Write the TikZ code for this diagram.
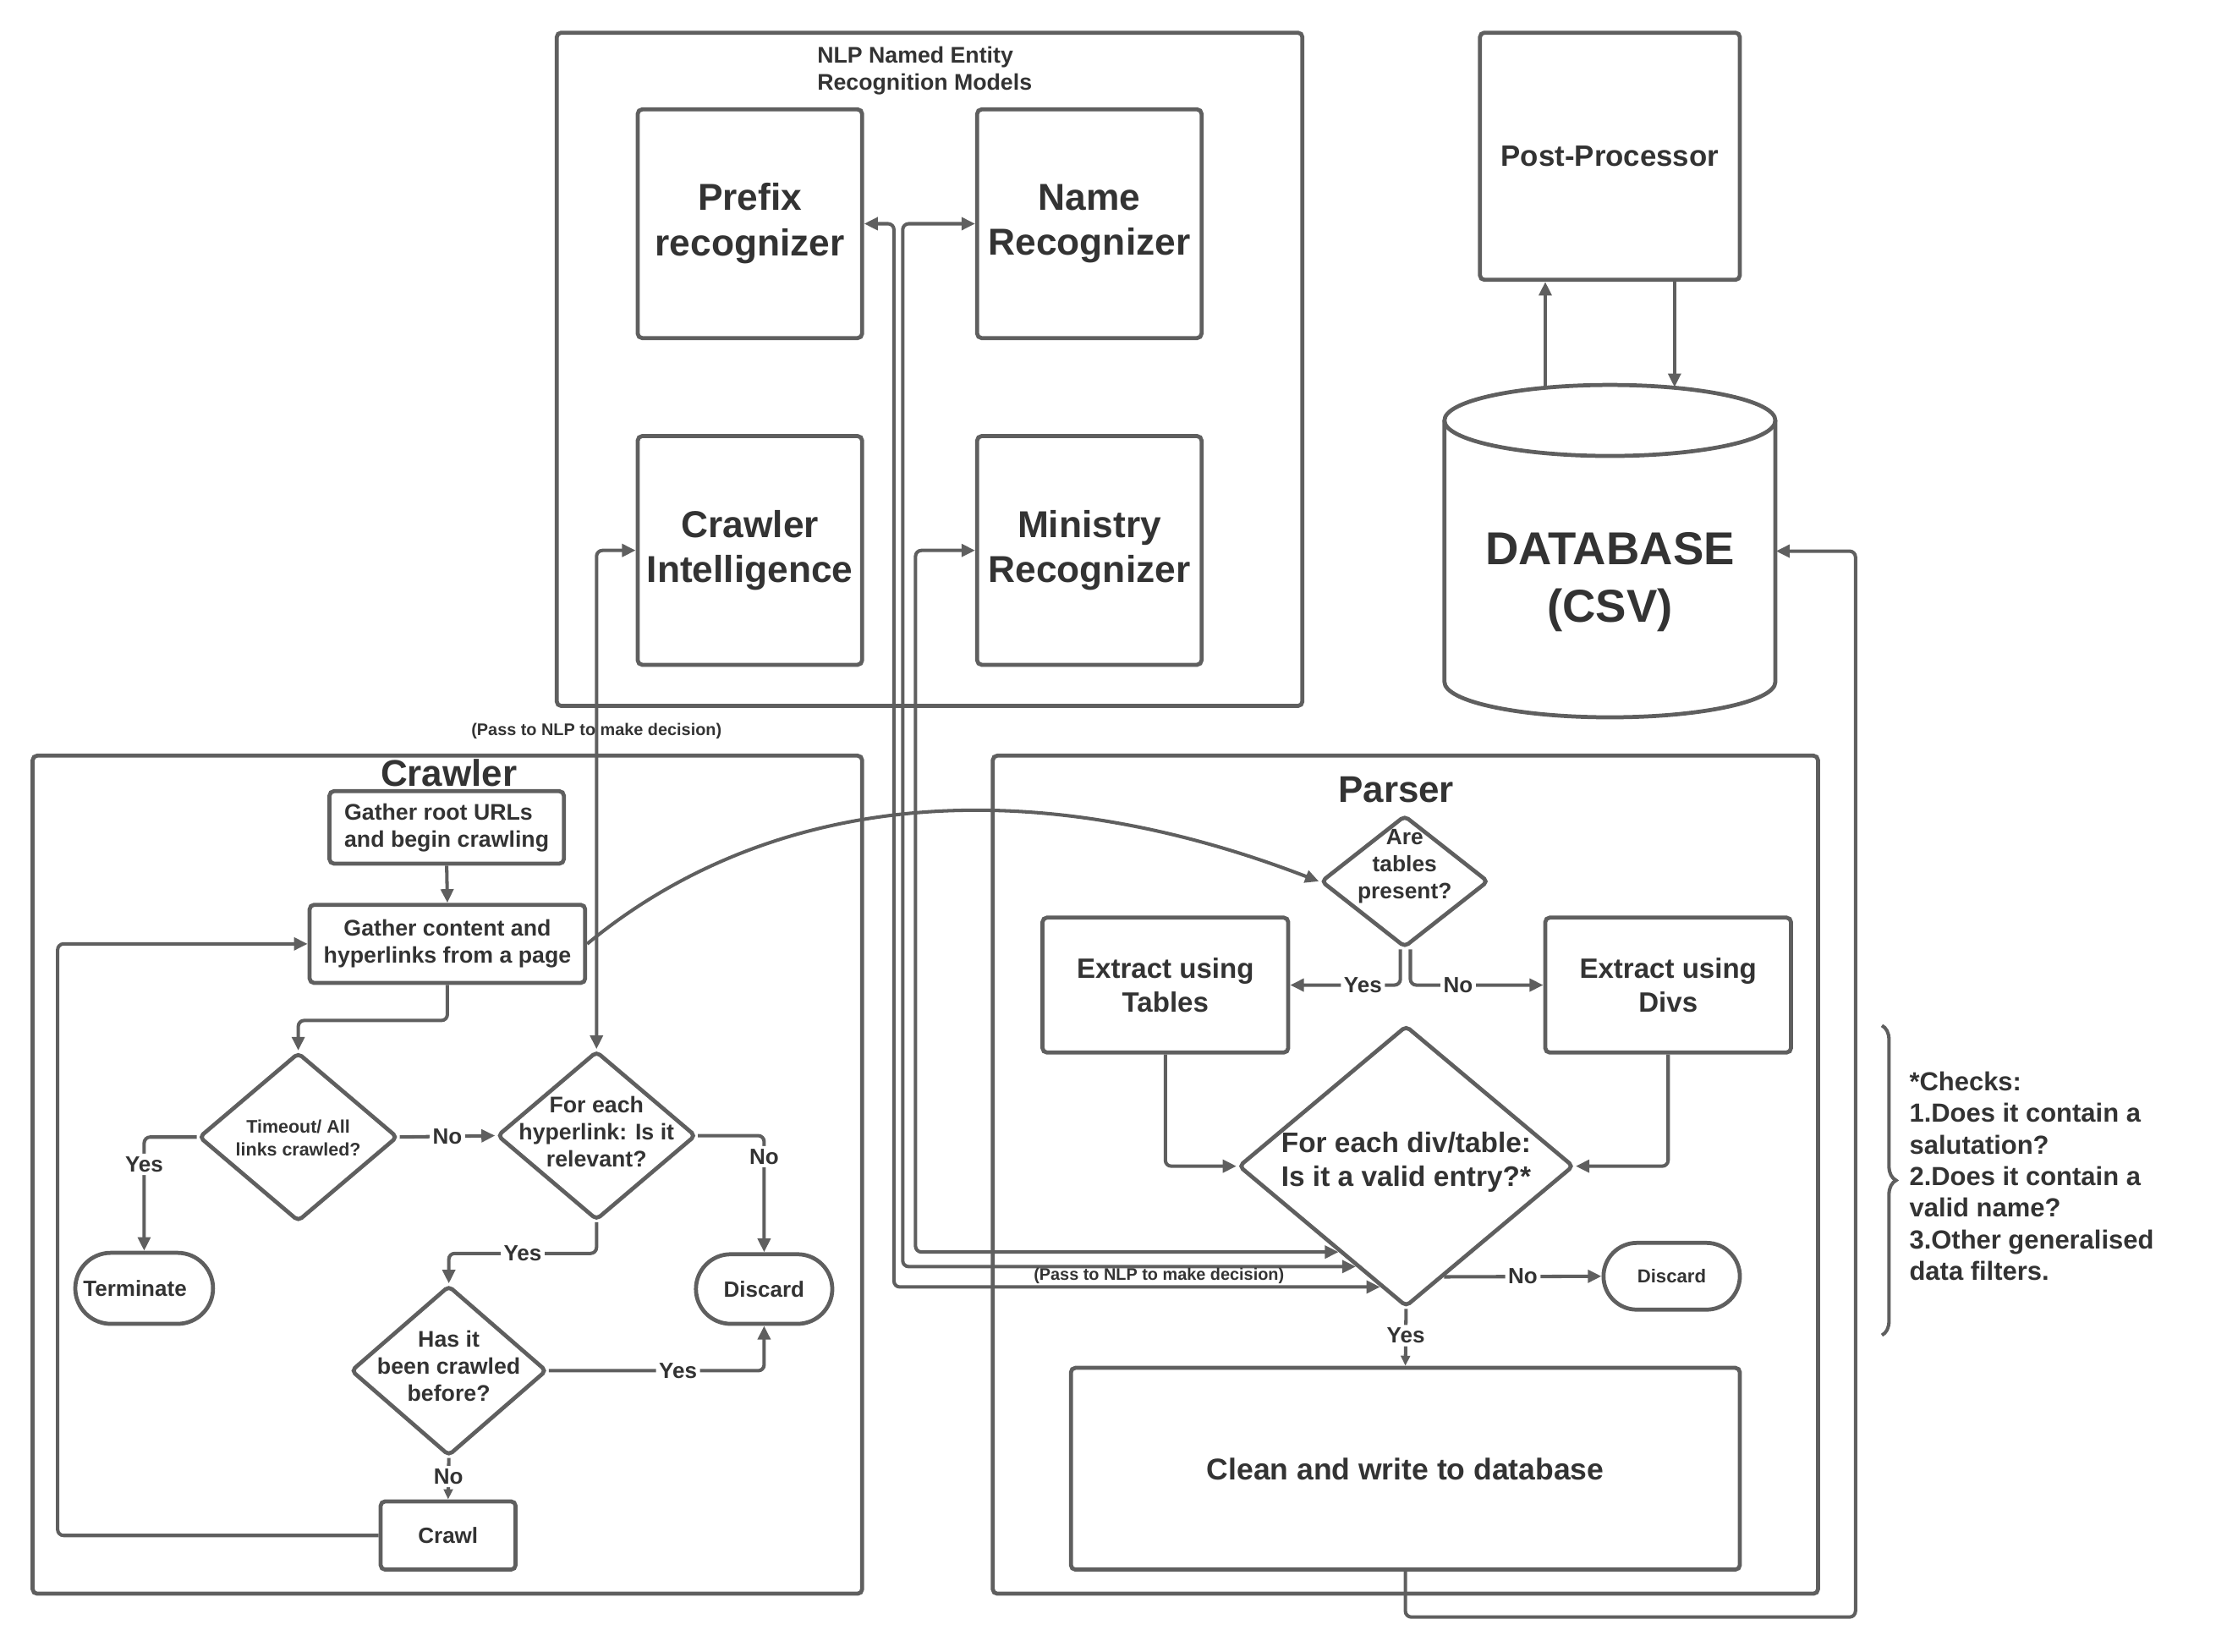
\documentclass[tikz,border=0pt]{standalone}
\usepackage{fontspec}
\setmainfont{Liberation Sans}
\usetikzlibrary{arrows.meta,shapes.geometric,shapes.misc,calc,decorations.pathreplacing}
\newlength\px
\setlength\px{0.016792cm}
\definecolor{lc}{HTML}{5F5F5F}
\definecolor{tc}{HTML}{333333}
\newcommand\myfs[2]{\fontsize{#1pt}{#2pt}\selectfont\bfseries}
\begin{document}
\begin{tikzpicture}[x=0.016792cm, y=-0.016792cm,
  ln/.style={draw=lc, line width=1.15pt, rounded corners=2pt},
  arr/.style={ln, -{Triangle[length=4.6pt,width=4.2pt]}},
  arrs/.style={ln, -{Triangle[length=3.4pt,width=3pt]}},
  arrb/.style={ln, {Triangle[length=4.6pt,width=4.2pt]}-{Triangle[length=4.6pt,width=4.2pt]}},
  box/.style={draw=lc, line width=1.35pt, rounded corners=1.5pt, text=tc, inner sep=0pt, align=center},
  dia/.style={draw=lc, line width=1.35pt, diamond, inner sep=0pt, rounded corners=1.5pt},
  stad/.style={draw=lc, line width=1.35pt, rounded rectangle, inner sep=0pt, text=tc},
  txt/.style={text=tc, inner sep=0pt, align=center},
  big/.style={font=\myfs{12.6}{15.3}},
  lbl/.style={fill=white, inner sep=1pt, text=tc, font=\myfs{7.4}{9}},
  small/.style={txt, font=\myfs{5.65}{7}},
]
\useasboundingbox (0,0) rectangle (1568,1163);

% ---------- NLP models ----------
\node[box, minimum width=525\px, minimum height=474\px] (nlp) at (654.5,260) {};
\node[txt, anchor=west, align=left, font=\myfs{7.6}{9.1}] (nlpt) at (575,50) {NLP Named Entity\\Recognition Models};
\node[box, big, minimum width=158\px, minimum height=161\px] (pre) at (528,157.5) {Prefix\\recognizer};
\node[box, big, minimum width=158\px, minimum height=161\px] (nam) at (767,157.5) {Name\\Recognizer};
\node[box, big, minimum width=158\px, minimum height=161\px] (ci) at (528,387.5) {Crawler\\Intelligence};
\node[box, big, minimum width=158\px, minimum height=161\px] (mini) at (767,387.5) {Ministry\\Recognizer};

% ---------- Post-processor and database ----------
\node[box, font=\myfs{9.9}{12}, minimum width=183\px, minimum height=174\px] (pp) at (1133.5,110) {Post-Processor};
\node[minimum width=233\px, minimum height=234\px, inner sep=0pt] (db) at (1133.5,388) {};
\draw[draw=lc, line width=1.35pt] (1133.5,296) ellipse [x radius=116.5\px, y radius=25\px];
\draw[draw=lc, line width=1.35pt] (1017,296) -- (1017,480)
  .. controls (1017,493.8) and (1069.2,505) .. (1133.5,505)
  .. controls (1197.8,505) and (1250,493.8) .. (1250,480) -- (1250,296);
\node[txt, font=\myfs{15.5}{19.3}] (dbt) at (1133.5,410) {DATABASE\\(CSV)};

% ---------- Crawler ----------
\node[box, minimum width=584\px, minimum height=590\px] (cbox) at (315,827) {};
\node[txt, font=\myfs{12.5}{15}] (ctitle) at (316,544) {Crawler};
\node[box, font=\myfs{7.6}{9.1}, align=left, minimum width=165\px, minimum height=51\px] (root) at (314.5,582.5) {Gather root URLs\\and begin crawling};
\node[box, font=\myfs{7.6}{9.1}, minimum width=194\px, minimum height=55\px] (gc) at (315,664.5) {Gather content and\\hyperlinks from a page};
\node[dia, minimum width=140\px, minimum height=119\px] (d1) at (210,800.5) {};
\node[txt, font=\myfs{6.1}{7.6}] (d1t) at (210,801) {Timeout/ All\\links crawled?};
\node[stad, font=\myfs{7.4}{9}, minimum width=97\px, minimum height=50\px] (term) at (101.5,907) {Terminate\kern13\px};
\node[dia, minimum width=140\px, minimum height=119\px] (d2) at (420,799.5) {};
\node[txt, font=\myfs{7.6}{9.1}] (d2t) at (420,797) {For each\\hyperlink: Is it\\relevant?};
\node[stad, font=\myfs{7.4}{9}, minimum width=96\px, minimum height=49\px] (disc1) at (538,907.5) {Discard};
\node[dia, minimum width=138\px, minimum height=120\px] (d3) at (316,965) {};
\node[txt, font=\myfs{7.6}{9.1}] (d3t) at (316,962) {Has it\\been crawled\\before?};
\node[box, font=\myfs{7.4}{9}, minimum width=95\px, minimum height=48\px] (crawl) at (315.5,1081) {Crawl};

% ---------- Parser ----------
\node[box, minimum width=581\px, minimum height=590\px] (pbox) at (989.5,827) {};
\node[txt, font=\myfs{12.5}{15}] (ptitle) at (983,556) {Parser};
\node[dia, minimum width=118\px, minimum height=93\px] (dA) at (989,620.5) {};
\node[txt, font=\myfs{7.5}{9.1}] (dAt) at (989,610) {Are\\tables\\present?};
\node[box, font=\myfs{9.4}{11.5}, minimum width=173\px, minimum height=95\px] (tab) at (820.5,693.5) {Extract using\\Tables};
\node[box, font=\myfs{9.4}{11.5}, minimum width=173\px, minimum height=95\px] (div) at (1174.5,693.5) {Extract using\\Divs};
\node[dia, minimum width=236\px, minimum height=198\px] (vd) at (990,821) {};
\node[txt, font=\myfs{9.5}{11.5}] (vdt) at (990,818) {For each div/table:\\Is it a valid entry?*};
\node[stad, font=\myfs{6.3}{8}, minimum width=96\px, minimum height=47\px] (disc2) at (1177,898.5) {Discard};
\node[box, font=\myfs{10.1}{12}, minimum width=471\px, minimum height=142\px] (clean) at (989.5,1034) {Clean and write to database};

% ---------- checks note ----------
\draw[draw=lc, line width=1.15pt, decorate, decoration={brace, amplitude=10\px}] (1325,722) -- (1325,940);
\node[txt, anchor=west, align=left, font=\myfs{8.8}{10.6}] (checks) at (1344,828) {*Checks:\\1.Does it contain a\\salutation?\\2.Does it contain a\\valid name?\\3.Other generalised\\data filters.};

% ---------- connectors: crawler ----------
\draw[arr] (root.south) -- (gc.north);
\draw[arr] (gc.south) -- ++(0,25) -| (d1.north);
\draw[arr] (d1.west) -| node[lbl, pos=0.62] {Yes} (term.north);
\draw[arr] (d1.east) -- node[lbl] {No} (d2.west);
\draw[arr] (d2.east) -| node[lbl, pos=0.59] {No} (disc1.north);
\draw[arr] (d2.south) -- ++(0,22) -| node[lbl, pos=0.25] {Yes} (d3.north);
\draw[arr] (d3.east) -| node[lbl, pos=0.30] {Yes} (disc1.south);
\draw[arrs] (d3.south) -- node[lbl, pos=0.45] {No} (crawl.north);
\draw[arr] (crawl.west) -- ++(-226,0) |- (gc.west);
\draw[arrb] (d2.north) |- (ci.west);
\node[small] (pass1) at (420,515) {(Pass to NLP to make decision)};
\draw[arr] (gc.east) .. controls (540,560) and (720,540) .. (dA.west);

% ---------- connectors: parser ----------
\draw[arr] ([xshift=-3\px]dA.south) |- node[lbl, pos=0.67] {Yes} (tab.east);
\draw[arr] ([xshift=4\px]dA.south) |- node[lbl, pos=0.68] {No} (div.west);
\draw[arr] (tab.south) |- (vd.west);
\draw[arr] (div.south) |- (vd.east);
\draw[arr] ($(vd.south)!0.224!(vd.east)$) -- node[lbl] {No} (disc2.west);
\draw[arrs] (vd.south) -- node[lbl, pos=0.47] {Yes} (clean.north);
\draw[arr] (clean.south) -- ++(0,32) -| ([xshift=56\px]db.east) -- (db.east);

% ---------- connectors: NLP ----------
\coordinate (e1) at ($(vd.west)!0.602!(vd.south)$);
\coordinate (e2) at ($(vd.west)!0.704!(vd.south)$);
\coordinate (e3) at ($(vd.west)!0.847!(vd.south)$);
\draw[arrb] (mini.west) -- ++(-42,0) |- (e1);
\draw[arrb] (nam.west) -- ++(-51,0) |- (e2);
\draw[arrb] (pre.east) -- ++(21,0) |- (e3);
\node[small] (pass2) at (816,898) {(Pass to NLP to make decision)};

% ---------- connectors: database ----------
\draw[arr] ([xshift=-45.5\px,yshift=-2\px]db.north) -- ([xshift=-45.5\px]pp.south);
\draw[arr] ([xshift=45.5\px]pp.south) -- ([xshift=45.5\px,yshift=-2\px]db.north);
\end{tikzpicture}
\end{document}
